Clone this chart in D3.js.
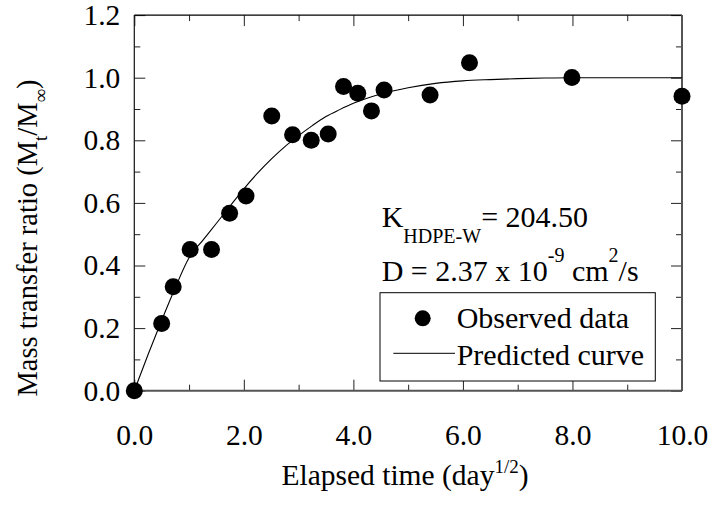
<!DOCTYPE html>
<html>
<head>
<meta charset="utf-8">
<script src="https://cdn.jsdelivr.net/npm/d3@7"></script>
<style>
  html, body { margin: 0; padding: 0; background: #fff; }
  svg { display: block; }
  text { font-family: "Liberation Serif", "Times New Roman", Times, serif; fill: #000; }
</style>
</head>
<body>
<svg id="chart" width="711" height="508"></svg>
<script>
// Observed data (x = elapsed time in day^1/2, y = Mt/M∞)
const obsX = [0.0, 0.50, 0.71, 1.02, 1.41, 1.74, 2.04, 2.51, 2.89, 3.23, 3.54, 3.82, 4.08, 4.33, 4.56, 5.40, 6.12, 7.99, 10.0];
const obsY = [0.0, 0.215, 0.332, 0.451, 0.451, 0.567, 0.622, 0.878, 0.818, 0.800, 0.820, 0.972, 0.950, 0.894, 0.961, 0.945, 1.048, 1.001, 0.941];

// Predicted curve
const curveX = [0, 0.25, 0.5, 0.75, 1.0, 1.25, 1.5, 1.75, 2.0, 2.25, 2.5, 2.75, 3.0, 3.25, 3.5, 3.75, 4.0, 4.5, 5.0, 5.5, 6.0, 6.5, 7.0, 7.5, 8.0, 9.0, 10.0];
const curveY = [0, 0.115, 0.225, 0.33, 0.425, 0.48, 0.535, 0.59, 0.645, 0.695, 0.74, 0.78, 0.815, 0.847, 0.876, 0.898, 0.918, 0.948, 0.968, 0.982, 0.99, 0.994, 0.997, 0.999, 1.0, 1.0, 1.0];

// Tick values
const xMajor = [0, 2, 4, 6, 8, 10];
const xMinor = [1, 3, 5, 7, 9];
const yMajor = [0, 0.2, 0.4, 0.6, 0.8, 1.0, 1.2];
const yMinor = [0.1, 0.3, 0.5, 0.7, 0.9, 1.1];

const legendLabels = ["Observed data", "Predicted curve"];

const svg = d3.select("#chart");
const L = 134.3, R = 682, T = 15.1, B = 390.7;
const x = d3.scaleLinear().domain([0, 10]).range([L, R]);
const y = d3.scaleLinear().domain([0, 1.2]).range([B, T]);

const FS = 29.5;
const FS2 = 30;

function styleAxis(g) {
  g.select(".domain").remove();
  g.selectAll(".tick line").attr("stroke", "#222").attr("stroke-width", 1);
  g.selectAll(".tick text").attr("font-size", FS).attr("font-family", "Liberation Serif").attr("fill", "#000");
}

// bottom
svg.append("g").attr("transform", `translate(0,${B})`)
  .call(d3.axisBottom(x).tickValues(xMajor).tickSize(-11).tickPadding(33).tickFormat(d3.format(".1f")))
  .call(styleAxis);
svg.append("g").attr("transform", `translate(0,${B})`)
  .call(d3.axisBottom(x).tickValues(xMinor).tickSize(-6).tickFormat(""))
  .call(styleAxis);
// top
svg.append("g").attr("transform", `translate(0,${T})`)
  .call(d3.axisTop(x).tickValues(xMajor).tickSize(-11).tickFormat(""))
  .call(styleAxis);
svg.append("g").attr("transform", `translate(0,${T})`)
  .call(d3.axisTop(x).tickValues(xMinor).tickSize(-6).tickFormat(""))
  .call(styleAxis);
// left
svg.append("g").attr("transform", `translate(${L},0)`)
  .call(d3.axisLeft(y).tickValues(yMajor).tickSize(-11).tickPadding(14).tickFormat(d3.format(".1f")))
  .call(styleAxis);
svg.append("g").attr("transform", `translate(${L},0)`)
  .call(d3.axisLeft(y).tickValues(yMinor).tickSize(-6).tickFormat(""))
  .call(styleAxis);
// right
svg.append("g").attr("transform", `translate(${R},0)`)
  .call(d3.axisRight(y).tickValues(yMajor).tickSize(-11).tickFormat(""))
  .call(styleAxis);
svg.append("g").attr("transform", `translate(${R},0)`)
  .call(d3.axisRight(y).tickValues(yMinor).tickSize(-6).tickFormat(""))
  .call(styleAxis);

// Frame
svg.append("line").attr("x1", L).attr("x2", R).attr("y1", T).attr("y2", T).attr("stroke", "#000").attr("stroke-width", 1.2);
svg.append("line").attr("x1", L).attr("x2", L).attr("y1", T).attr("y2", B).attr("stroke", "#111").attr("stroke-width", 1.2);
svg.append("line").attr("x1", R).attr("x2", R).attr("y1", T).attr("y2", B).attr("stroke", "#555").attr("stroke-width", 2);
svg.append("line").attr("x1", L).attr("x2", R).attr("y1", B).attr("y2", B).attr("stroke", "#555").attr("stroke-width", 2);

// Predicted curve
const curveData = curveX.map((v, i) => [v, curveY[i]]);
svg.append("path")
  .datum(curveData)
  .attr("fill", "none")
  .attr("stroke", "#000")
  .attr("stroke-width", 1.1)
  .attr("d", d3.line().x(d => x(d[0])).y(d => y(d[1])).curve(d3.curveMonotoneX));

// Observed points
const obsData = obsX.map((v, i) => [v, obsY[i]]);
svg.append("g").selectAll("circle").data(obsData).join("circle")
  .attr("cx", d => x(d[0])).attr("cy", d => y(d[1])).attr("r", 8.5).attr("fill", "#000");

// Annotations
const k = svg.append("text").attr("x", 381.7).attr("y", 226.7).attr("font-size", FS2);
k.append("tspan").text("K");
k.append("tspan").attr("font-size", 20).attr("dy", 16).text("HDPE-W");
k.append("tspan").attr("dy", -16).text("= 204.50");

const dt = svg.append("text").attr("x", 381.7).attr("y", 280.7).attr("font-size", FS2);
dt.append("tspan").text("D = 2.37 x 10");
dt.append("tspan").attr("font-size", 20).attr("dy", -19).text("-9");
dt.append("tspan").attr("dy", 19).text(" cm");
dt.append("tspan").attr("font-size", 20).attr("dy", -19).text("2");
dt.append("tspan").attr("dy", 19).text("/s");

// Legend
svg.append("rect").attr("x", 380).attr("y", 292.7).attr("width", 275.3).attr("height", 88.3)
  .attr("fill", "#fff").attr("stroke", "#000").attr("stroke-width", 1);
svg.append("circle").attr("cx", 422.7).attr("cy", 318.3).attr("r", 8).attr("fill", "#000");
svg.append("line").attr("x1", 393.3).attr("x2", 455).attr("y1", 353.3).attr("y2", 353.3).attr("stroke", "#000").attr("stroke-width", 1);
svg.append("text").attr("x", 456.7).attr("y", 328).attr("font-size", FS2).text(legendLabels[0]);
svg.append("text").attr("x", 456.7).attr("y", 365).attr("font-size", FS2).text(legendLabels[1]);

// Axis titles
const xt = svg.append("text").attr("x", 405).attr("y", 485).attr("font-size", FS).attr("text-anchor", "middle");
xt.append("tspan").text("Elapsed time (day");
xt.append("tspan").attr("font-size", 19).attr("dy", -12).text("1/2");
xt.append("tspan").attr("dy", 12).text(")");

const yt = svg.append("text").attr("transform", "translate(37,238) rotate(-90)").attr("font-size", 28.5).attr("text-anchor", "middle");
yt.append("tspan").text("Mass transfer ratio (M");
yt.append("tspan").attr("font-size", 19).attr("dy", 10).text("t");
yt.append("tspan").attr("dy", -10).text("/M");
yt.append("tspan").attr("font-size", 19).attr("dy", 10).text("∞");
yt.append("tspan").attr("dy", -10).text(")");
</script>
</body>
</html>
